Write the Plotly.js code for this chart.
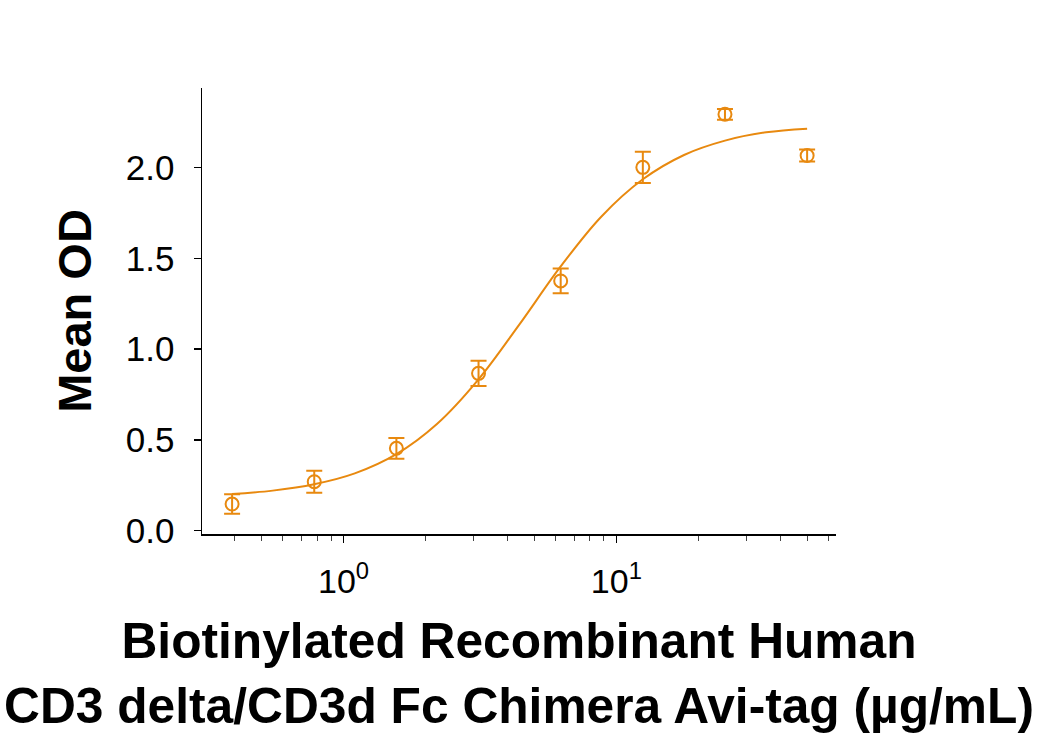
<!DOCTYPE html>
<html>
<head>
<meta charset="utf-8">
<script src="https://cdn.plot.ly/plotly-3.0.1.min.js"></script>
<style>html,body{margin:0;padding:0;background:#fff;}#chart{width:1040px;height:737px;}</style>
</head>
<body>
<div id="chart"></div>
<script>
// Measured data (concentration in µg/mL, mean OD, error)
const concentration = [0.390625, 0.78125, 1.5625, 3.125, 6.25, 12.5, 25, 50];
const meanOD = [0.147, 0.27, 0.454, 0.867, 1.376, 2.002, 2.294, 2.067];
const errorOD = [0.054, 0.061, 0.057, 0.07, 0.068, 0.086, 0.03, 0.033];

// Fitted curve
const fitX = [0.39, 0.55, 0.78, 1.1, 1.5625, 2.2, 3.125, 4.4, 6.25, 8.8, 12.5, 17.7, 25, 35.4, 50];
const fitY = [0.202, 0.221, 0.256, 0.316, 0.422, 0.588, 0.834, 1.134, 1.456, 1.730, 1.936, 2.070, 2.149, 2.195, 2.215];

const xTickVals = [1, 10];
const xTickText = ['10<sup>0</sup>', '10<sup>1</sup>'];
const yTickVals = [0, 0.5, 1.0, 1.5, 2.0];
const yTickText = ['0.0', '0.5', '1.0', '1.5', '2.0'];

const xTitle = 'Biotinylated Recombinant Human<br>CD3 delta/CD3d Fc Chimera Avi-tag (µg/mL)';
const yTitle = 'Mean OD';

const orange = '#E8890F';
const font = 'Liberation Sans, Arial, sans-serif';

const traces = [
  {
    x: fitX, y: fitY, type: 'scatter', mode: 'lines',
    line: {color: orange, width: 2, shape: 'spline', smoothing: 1},
    hoverinfo: 'skip', showlegend: false
  },
  {
    x: concentration, y: meanOD, type: 'scatter', mode: 'markers',
    marker: {symbol: 'circle-open', size: 13, color: orange, line: {color: orange, width: 2}},
    error_y: {type: 'data', array: errorOD, visible: true, color: orange, thickness: 2, width: 8},
    showlegend: false
  }
];

const layout = {
  width: 1040, height: 737,
  paper_bgcolor: '#fff', plot_bgcolor: '#fff',
  margin: {l: 202, r: 204, t: 88, b: 203},
  showlegend: false,
  font: {family: font, color: '#000'},
  xaxis: {
    type: 'log',
    range: [Math.log10(0.303), Math.log10(63.8)],
    tickvals: xTickVals, ticktext: xTickText,
    ticks: 'outside', ticklen: 7, tickwidth: 1.5, tickcolor: '#000',
    minor: {ticks: 'outside', ticklen: 5, tickwidth: 1, tickcolor: '#444', dtick: 'D1', showgrid: false},
    showline: true, linecolor: '#000', linewidth: 1.5,
    showgrid: false, zeroline: false,
    tickfont: {family: font, size: 34, color: '#000'},
    ticklabelstandoff: 10,
    title: {text: xTitle, font: {family: font, size: 49.7, color: '#000', weight: 'bold'}, standoff: 24}
  },
  yaxis: {
    range: [-0.018, 2.439],
    tickvals: yTickVals, ticktext: yTickText,
    ticks: 'outside', ticklen: 7, tickwidth: 1.5, tickcolor: '#000',
    showline: true, linecolor: '#000', linewidth: 1.5,
    showgrid: false, zeroline: false,
    tickfont: {family: font, size: 35, color: '#000'},
    ticklabelstandoff: 12,
    title: {text: yTitle, font: {family: font, size: 47, color: '#000', weight: 'bold'}, standoff: 19}
  }
};

Plotly.newPlot('chart', traces, layout, {staticPlot: true, displayModeBar: false});
</script>
</body>
</html>
